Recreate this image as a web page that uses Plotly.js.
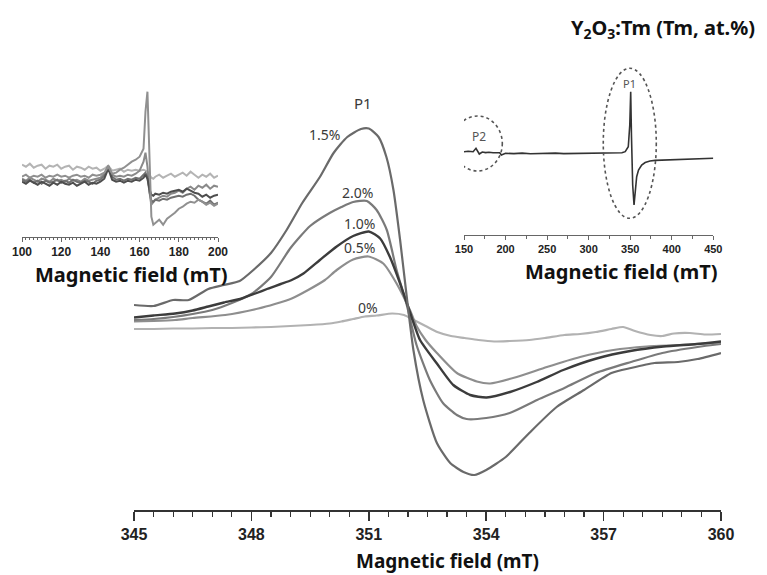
<!DOCTYPE html>
<html>
<head>
<meta charset="utf-8">
<script src="https://cdn.plot.ly/plotly-3.0.1.min.js"></script>
<style>html,body{margin:0;padding:0;background:#fff;}#chart{width:767px;height:575px;}</style>
</head>
<body>
<div id="chart"></div>
<script>
// ---- Main panel: EPR spectra near P1 (x in mT, y in arbitrary intensity units) ----
const x0pct = [345.0,345.5,346.0,346.5,347.0,347.5,348.0,348.5,349.0,349.5,350.0,350.3,350.6,350.9,351.2,351.6,351.9,352.15,352.45,352.75,353.1,353.45,353.8,354.2,354.6,355.1,355.5,356.0,356.4,356.8,357.2,357.5,357.8,358.2,358.5,358.8,359.2,359.6,360.0];
const y0pct = [181,181,181.5,181.5,182,182,182.5,183,184,185,186.5,188.5,191,193.5,194.5,196.5,195,190,184,178,174,172,170,168.5,169,170,172,175,176,178,181,183,179,175,174,176.5,177,175.5,176];

const x05pct = [345.0,345.5,346.05,346.5,347.33,348.18,348.6,349.03,349.45,349.88,350.18,350.6,350.99,351.37,351.71,352.05,352.22,352.45,352.74,353.25,353.76,354.1,354.78,355.55,356.4,357.25,358.1,358.95,360.0];
const y05pct = [188.5,189,190,192,195,201.5,206,211.5,220,230,240,250.5,253.5,246.5,226.5,200,184,170,157,137,128.5,126.5,133,143,153,160,163.5,165,167.5];

const x10pct = [345.0,345.5,346.05,346.5,346.9,347.3,347.75,348.1,348.43,348.75,349.03,349.33,349.75,350.18,350.6,351.0,351.29,351.54,351.8,352.05,352.31,352.74,353.16,353.59,354.01,354.61,355.29,355.97,356.82,357.68,358.53,359.38,360.0];
const y10pct = [192.5,194.5,196.5,199.5,203.5,207.5,211.5,216.5,221.5,226,230,236.5,250,263.5,274,278.5,271.5,253,226.5,198,170,146.5,125,115,112.5,118,128,140,151.5,159,163.5,166,168.5];

const x15pct = [345.0,345.5,346.0,346.4,346.9,347.3,347.7,348.05,348.5,348.9,349.3,349.75,350.1,350.45,350.8,351.0,351.25,351.45,351.63,351.8,351.97,352.14,352.39,352.74,353.08,353.42,353.7,354.0,354.5,355.1,355.8,356.5,357.2,357.7,358.3,358.9,359.4,360.0];
const y15pct = [205,204,210,210,221,225,229,240,257,280,307,333,357,373,381,381.5,373,353,320,270,213,160,110,67,47,38,35,40,53,77,103,120,137,142,147,148,151,157];

const x20pct = [345.0,345.5,346.0,346.5,347.0,347.5,348.0,348.5,349.0,349.5,350.0,350.3,350.6,350.95,351.2,351.46,351.71,351.97,352.22,352.56,352.9,353.25,353.5,354.0,354.6,355.3,356.0,356.8,357.7,358.5,359.4,360.0];
const y20pct = [190,191,193,196,200,207,216,233,262,284,297,303,308,309,300,280,240,205,165,130,106.7,95,91,92,97,110,122,137,148,157,163,166];

const mainLabels = ["P1","1.5%","2.0%","1.0%","0.5%","0%"];

// ---- Left inset: P2 region (100-200 mT) ----
const insetLX = [100,102,104,106,108,110,112,114,116,118,120,122,124,126,128,130,132,134,136,138,140,142,144,146,148,150,152,154,156,158,160,162,163,164,165,166,167,168,170,172,174,176,178,180,182,184,186,188,190,192,194,196,198,200];
const insetL0 = [72,70,73,69,71,72,68,71,70,72,68,70,71,67,70,69,67,70,68,69,66,68,71,66,67,68,65,67,66,67,66,67,66,65,62,59,58,60,62,59,61,63,60,62,64,61,65,62,59,62,60,63,59,61];
const insetL15 = [60,62,59,61,60,62,59,61,60,62,60,61,59,61,62,60,61,59,62,61,62,64,70,63,64,67,69,72,75,77,80,88,125,145,90,20,12,14,17,12,18,21,24,28,30,33,35,34,37,35,32,34,31,33];
const insetL20 = [58,56,59,57,55,58,57,55,58,56,57,55,58,56,57,55,58,56,57,58,59,63,71,62,60,61,60,62,61,63,66,75,84,70,45,32,34,37,39,41,40,43,44,46,44,48,50,47,51,49,52,48,51,50];
const insetL10 = [55,53,56,54,52,55,53,51,54,52,55,53,52,54,51,53,55,52,54,53,55,58,68,57,55,56,54,56,55,57,56,59,62,58,48,42,41,43,42,44,43,45,46,47,45,48,46,44,43,40,42,39,41,42];
const insetL05 = [57,55,57,54,56,53,56,54,55,57,54,56,54,57,55,54,56,55,53,56,57,61,70,60,57,58,56,58,57,59,58,62,64,60,45,36,35,37,36,38,37,39,40,41,40,42,43,41,37,35,33,36,32,34];

// ---- Right inset: full sweep (150-450 mT) ----
const insetRX = [150,155,161,164.4,168.4,172,176,180,185,190,193,195,200,210,220,230,240,250,260,270,280,290,300,310,320,330,340,344,347.7,349.5,350.6,351.5,353,354.6,356,357.8,360,363.8,368,373.8,380,390,401.9,412,425,437,450];
const insetRY = [83.3,83.8,83.3,86.7,81,83,82.4,82.8,82.2,82.6,82.3,80,81.7,81.4,81.9,81.3,81.7,81.5,81.9,81.4,81.6,81.9,81.5,82.1,82,82.4,82.2,83.3,88.3,110,143.3,100,50,30,45,58.3,65,70,72.5,74,74.6,74.8,75,75.6,76,76.4,76.7];

const sansBold = {family: "Noto Sans, Open Sans, sans-serif", weight: "bold", color: "#111"};
const numBold = {family: "Liberation Sans, Arial, sans-serif", weight: "bold", color: "#222"};

const lineTr = (x, y, color, width, xa, ya) => ({
  type: "scatter", mode: "lines", x: x, y: y, xaxis: xa, yaxis: ya,
  line: {color: color, width: width, shape: "spline", smoothing: 0.6},
  hoverinfo: "skip", showlegend: false
});
const noisyTr = (x, y, color) => ({
  type: "scatter", mode: "lines", x: x, y: y, xaxis: "x2", yaxis: "y2",
  line: {color: color, width: 2}, hoverinfo: "skip", showlegend: false
});

const traces = [
  lineTr(x0pct, y0pct, "#b2b2b2", 2.2, "x", "y"),
  lineTr(x05pct, y05pct, "#8e8e8e", 2.2, "x", "y"),
  lineTr(x20pct, y20pct, "#7a7a7a", 2.2, "x", "y"),
  lineTr(x10pct, y10pct, "#3c3c3c", 2.4, "x", "y"),
  lineTr(x15pct, y15pct, "#6a6a6a", 2.2, "x", "y"),
  noisyTr(insetLX, insetL0, "#b4b4b4"),
  noisyTr(insetLX, insetL20, "#8a8a8a"),
  noisyTr(insetLX, insetL05, "#707070"),
  noisyTr(insetLX, insetL10, "#4e4e4e"),
  noisyTr(insetLX, insetL15, "#909090"),
  {type: "scatter", mode: "lines", x: insetRX, y: insetRY, xaxis: "x3", yaxis: "y3",
   line: {color: "#333", width: 1.6}, hoverinfo: "skip", showlegend: false}
];

const labelFont = {family: "Noto Sans, Open Sans, sans-serif", size: 14, color: "#3a3a3a"};
const mainLabelPos = [[350.85, 407], [349.88, 376], [350.71, 318], [350.76, 287], [350.76, 263], [350.99, 203]];
const annotations = mainLabels.map((t, i) => ({
  text: t, x: mainLabelPos[i][0], y: mainLabelPos[i][1], xref: "x", yref: "y",
  showarrow: false, xanchor: "center", yanchor: "middle",
  font: Object.assign({}, labelFont, i === 0 ? {size: 15} : {})
}));
annotations.push(
  {text: "P2", x: 163.6, y: 158, xref: "x2", yref: "y2", showarrow: false, xanchor: "center", yanchor: "middle",
   font: {family: "Noto Sans, sans-serif", size: 12, color: "#444"}},
  {text: "P2", x: 168.4, y: 98.3, xref: "x3", yref: "y3", showarrow: false, xanchor: "center", yanchor: "middle",
   font: {family: "Noto Sans, sans-serif", size: 12, color: "#555"}},
  {text: "P1", x: 349.7, y: 151.7, xref: "x3", yref: "y3", showarrow: false, xanchor: "center", yanchor: "middle",
   font: {family: "Noto Sans, sans-serif", size: 11, color: "#555"}},
  {text: "Magnetic field (mT)", x: 447/767, y: 1 - 561/575, xref: "paper", yref: "paper", showarrow: false,
   xanchor: "center", yanchor: "middle", font: Object.assign({}, sansBold, {size: 19})},
  {text: "Magnetic field (mT)", x: 621.5/767, y: 1 - 271/575, xref: "paper", yref: "paper", showarrow: false,
   xanchor: "center", yanchor: "middle", font: Object.assign({}, sansBold, {size: 20})},
  {text: "Magnetic field (mT)", x: 131.5/767, y: 1 - 274/575, xref: "paper", yref: "paper", showarrow: false,
   xanchor: "center", yanchor: "middle", font: Object.assign({}, sansBold, {size: 20})}
);

const axisCommon = {showgrid: false, zeroline: false, showline: true, ticks: "outside", fixedrange: true};

const layout = {
  width: 767, height: 575,
  margin: {l: 0, r: 0, t: 0, b: 0},
  paper_bgcolor: "#fff", plot_bgcolor: "rgba(0,0,0,0)",
  showlegend: false,
  title: {text: "Y<sub>2</sub>O<sub>3</sub>:Tm (Tm, at.%)", x: 663/767, y: 1 - 28/575,
          xref: "paper", yref: "paper", xanchor: "center", yanchor: "middle",
          font: Object.assign({}, sansBold, {size: 20})},
  xaxis: Object.assign({}, axisCommon, {
    domain: [134/767, 721/767], anchor: "y", range: [345, 360],
    tickmode: "linear", tick0: 345, dtick: 3, ticklen: 9, tickwidth: 1.5, tickcolor: "#333",
    linecolor: "#333", linewidth: 1.5,
    tickfont: Object.assign({}, numBold, {size: 16}),
    minor: {dtick: 0.5, tick0: 345, ticks: "outside", ticklen: 5, tickwidth: 1.2, tickcolor: "#333", showgrid: false}
  }),
  yaxis: {domain: [65/575, 485/575], anchor: "x", range: [0, 420], visible: false, fixedrange: true},
  xaxis2: Object.assign({}, axisCommon, {
    domain: [22/767, 218/767], anchor: "y2", range: [100, 200],
    tickmode: "linear", tick0: 100, dtick: 20, ticklen: 4, tickwidth: 1, tickcolor: "#666",
    linecolor: "#666", linewidth: 1,
    tickfont: Object.assign({}, numBold, {size: 12}),
    minor: {dtick: 2, tick0: 100, ticks: "outside", ticklen: 2.5, tickwidth: 1, tickcolor: "#666", showgrid: false}
  }),
  yaxis2: {domain: [(575 - 236.7)/575, (575 - 80)/575], anchor: "x2", range: [0, 156.7], visible: false, fixedrange: true},
  xaxis3: Object.assign({}, axisCommon, {
    domain: [464/767, 713.3/767], anchor: "y3", range: [150, 450],
    tickmode: "linear", tick0: 150, dtick: 50, ticklen: 4, tickwidth: 1, tickcolor: "#666",
    linecolor: "#666", linewidth: 1,
    tickfont: Object.assign({}, numBold, {size: 11}),
    minor: {dtick: 25, tick0: 150, ticks: "outside", ticklen: 2.5, tickwidth: 1, tickcolor: "#666", showgrid: false}
  }),
  yaxis3: {domain: [(575 - 235)/575, (575 - 60)/575], anchor: "x3", range: [0, 175], visible: false, fixedrange: true},
  shapes: [
    {type: "circle", xref: "x3", yref: "y3", x0: 136.4, x1: 196.1, y0: 64, y1: 119,
     line: {color: "#555", width: 1.6, dash: "dot"}},
    {type: "circle", xref: "x3", yref: "y3", x0: 317.6, x1: 381.4, y0: 16.7, y1: 166.7,
     line: {color: "#555", width: 1.6, dash: "dot"}}
  ],
  annotations: annotations
};

Plotly.newPlot("chart", traces, layout, {staticPlot: true, displayModeBar: false});
</script>
</body>
</html>
